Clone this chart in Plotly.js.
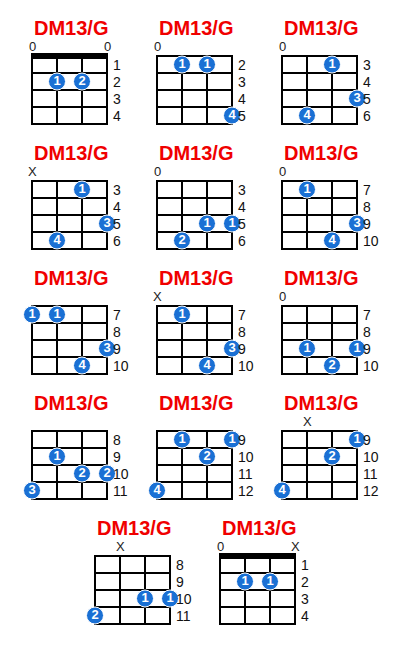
<!DOCTYPE html>
<html>
<head>
<meta charset="utf-8">
<script src="https://cdn.plot.ly/plotly-3.0.1.min.js"></script>
<style>
html, body { margin: 0; padding: 0; background: #fff; }
#chart { width: 400px; height: 645px; }
</style>
</head>
<body>
<div id="chart"></div>
<script>
// one entry per diagram, reading order
var chordNames = ['DM13/G','DM13/G','DM13/G','DM13/G','DM13/G','DM13/G','DM13/G',
                  'DM13/G','DM13/G','DM13/G','DM13/G','DM13/G','DM13/G','DM13/G'];
var startFrets = [1, 2, 3, 3, 3, 7, 7, 7, 7, 8, 9, 9, 8, 1];
var openMarks = [
  ['0','','','0'],
  ['0','','',''],
  ['0','','',''],
  ['X','','',''],
  ['0','','',''],
  ['0','','',''],
  ['','','',''],
  ['X','','',''],
  ['0','','',''],
  ['','','',''],
  ['','','',''],
  ['','X','',''],
  ['','X','',''],
  ['0','','','X']
];
var fingerStrings = [
  [2,3], [2,3,4], [3,4,2], [3,4,2], [3,4,2], [2,4,3], [1,2,4,3],
  [2,4,3], [2,4,3], [2,3,4,1], [2,4,3,1], [4,3,1], [3,4,1], [2,3]
];
var fingerFrets = [
  [2,2], [2,2,5], [3,5,6], [3,5,6], [5,5,6], [7,9,10], [7,7,9,10],
  [7,9,10], [9,9,10], [9,10,10,11], [9,9,10,12], [9,10,12], [10,10,11], [2,2]
];
var fingerNums = [
  ['1','2'], ['1','1','4'], ['1','3','4'], ['1','3','4'], ['1','1','2'], ['1','3','4'], ['1','1','3','4'],
  ['1','3','4'], ['1','1','2'], ['1','2','2','3'], ['1','1','2','4'], ['1','2','4'], ['1','1','2'], ['1','1']
];

var SW = 25, FH = 17, NSTR = 4, NFR = 4;

function origin(i) {
  if (i < 12) return { x: 32 + (i % 3) * 125, y: 56 + Math.floor(i / 3) * 125 };
  return { x: 95 + (i - 12) * 125, y: 556 };
}

var shapes = [], annotations = [];
var dx = [], dy = [], dt = [];

chordNames.forEach(function (name, i) {
  var o = origin(i);
  var w = SW * (NSTR - 1), h = FH * NFR;

  for (var s = 0; s < NSTR; s++) {
    shapes.push({ type: 'line', layer: 'below', xref: 'x', yref: 'y', x0: o.x + s * SW, x1: o.x + s * SW,
      y0: o.y, y1: o.y + h, line: { color: '#000', width: 2 } });
  }
  for (var f = 0; f <= NFR; f++) {
    shapes.push({ type: 'line', layer: 'below', xref: 'x', yref: 'y', x0: o.x - 1, x1: o.x + w + 1,
      y0: o.y + f * FH, y1: o.y + f * FH, line: { color: '#000', width: 2 } });
  }
  if (startFrets[i] === 1) {
    shapes.push({ type: 'rect', layer: 'below', xref: 'x', yref: 'y', x0: o.x - 1, x1: o.x + w + 1,
      y0: o.y - 3, y1: o.y + 3, fillcolor: '#000', line: { width: 0 } });
  }

  annotations.push({ x: o.x + w / 2 + 1, y: o.y - 28, text: '<b>' + name + '</b>', showarrow: false,
    xanchor: 'center', yanchor: 'middle', font: { family: 'Liberation Sans, Arial', size: 20, color: '#f00000' } });

  openMarks[i].forEach(function (m, s) {
    if (!m) return;
    annotations.push({ x: o.x + s * SW, y: o.y - 10, text: m, showarrow: false,
      xanchor: 'center', yanchor: 'middle', font: { family: 'Liberation Sans, Arial', size: 13, color: '#222' } });
  });

  for (var k = 0; k < NFR; k++) {
    annotations.push({ x: o.x + w + 4, y: o.y + FH * (k + 0.5), text: String(startFrets[i] + k), showarrow: false,
      xanchor: 'left', yanchor: 'middle', font: { family: 'Liberation Sans, Arial', size: 14, color: '#111' } });
  }

  fingerStrings[i].forEach(function (s, j) {
    dx.push(o.x + (s - 1) * SW);
    dy.push(o.y + FH * (fingerFrets[i][j] - startFrets[i] + 0.5));
    dt.push('<b>' + fingerNums[i][j] + '</b>');
  });
});

var dots = {
  x: dx, y: dy, text: dt, type: 'scatter', mode: 'markers+text',
  textposition: 'middle center',
  textfont: { family: 'Liberation Sans, Arial', size: 13, color: '#ffffff' },
  marker: { size: 17, color: '#1a70d4', line: { color: '#fff', width: 1 } },
  hoverinfo: 'skip', cliponaxis: false
};

var layout = {
  width: 400, height: 645,
  margin: { l: 0, r: 0, t: 0, b: 0 },
  paper_bgcolor: '#fff', plot_bgcolor: '#fff',
  showlegend: false,
  xaxis: { range: [0, 400], visible: false, fixedrange: true },
  yaxis: { range: [645, 0], visible: false, fixedrange: true },
  shapes: shapes,
  annotations: annotations
};

Plotly.newPlot('chart', [dots], layout, { staticPlot: true, displayModeBar: false });
</script>
</body>
</html>
